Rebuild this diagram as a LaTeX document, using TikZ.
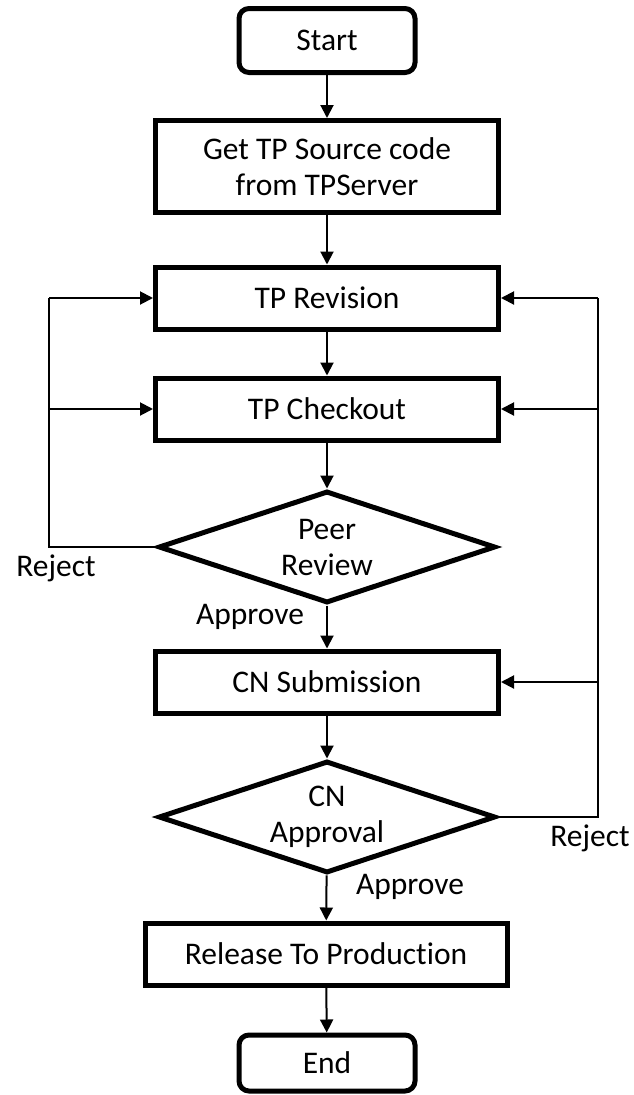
\documentclass[tikz,border=0pt]{standalone}
\usepackage{fontspec}
\setmainfont[Ligatures={NoCommon,NoRare}]{Carlito}
\usetikzlibrary{shapes.geometric,arrows.meta}
\begin{document}
\begin{tikzpicture}[x=1pt,y=-1pt,
  font=\fontsize{31.5}{36}\selectfont,
  box/.style={draw,line width=5pt,minimum width=343pt,inner sep=0pt,align=center},
  term/.style={draw,line width=5pt,rounded corners=10pt,minimum width=176pt,inner sep=0pt},
  dec/.style={draw,diamond,line width=5pt,aspect=2.9,inner sep=0pt,minimum width=337pt,minimum height=112pt,align=center},
  arr/.style={line width=2pt,-{Triangle[length=13pt,width=13pt]}},
  ln/.style={line width=2pt},
  lbl/.style={inner sep=0pt}]
\useasboundingbox (0,0) rectangle (633,1095);
\node[term,minimum height=64pt] (start) at (327,40.5) {Start};
\node[box,minimum height=92pt] (get) at (327,166.5) {Get TP Source code\\from TPServer};
\node[box,minimum height=62pt] (rev) at (327,298) {TP Revision};
\node[box,minimum height=62pt] (chk) at (327,409) {TP Checkout};
\node[dec] (peer) at (327,547) {Peer\\Review};
\node[box,minimum height=62pt] (cns) at (327,682) {CN Submission};
\node[dec] (cna) at (327,817) {CN\\Approval};
\node[box,minimum width=362pt,minimum height=62pt] (rel) at (326,954) {Release To Production};
\node[term,minimum height=56pt] (end) at (327,1063) {End};

\draw[arr] (start) -- (get);
\draw[arr] (get) -- (rev);
\draw[arr] (rev) -- (chk);
\draw[arr] (chk) -- (peer);
\draw[arr] (peer) -- (cns);
\draw[arr] (cns) -- (cna);
\draw[arr] (cna) -- (rel);
\draw[arr] (rel) -- (end);

\coordinate (l1) at (49,298);
\coordinate (l2) at (49,409);
\coordinate (l3) at (49,547);
\draw[ln] (peer.west) -- (l3) -- (l1);
\draw[arr] (l1) -- (rev.west);
\draw[arr] (l2) -- (chk.west);

\coordinate (r1) at (598,298);
\coordinate (r2) at (598,409);
\coordinate (r3) at (598,682);
\coordinate (r4) at (598,817);
\draw[ln] (cna.east) -- (r4) -- (r1);
\draw[arr] (r1) -- (rev.east);
\draw[arr] (r2) -- (chk.east);
\draw[arr] (r3) -- (cns.east);

\node[lbl] (rejl) at (56,568) {Reject};
\node[lbl] (appl) at (250,617) {Approve};
\node[lbl] (rejr) at (590,838) {Reject};
\node[lbl] (appr) at (410,887) {Approve};
\end{tikzpicture}
\end{document}
